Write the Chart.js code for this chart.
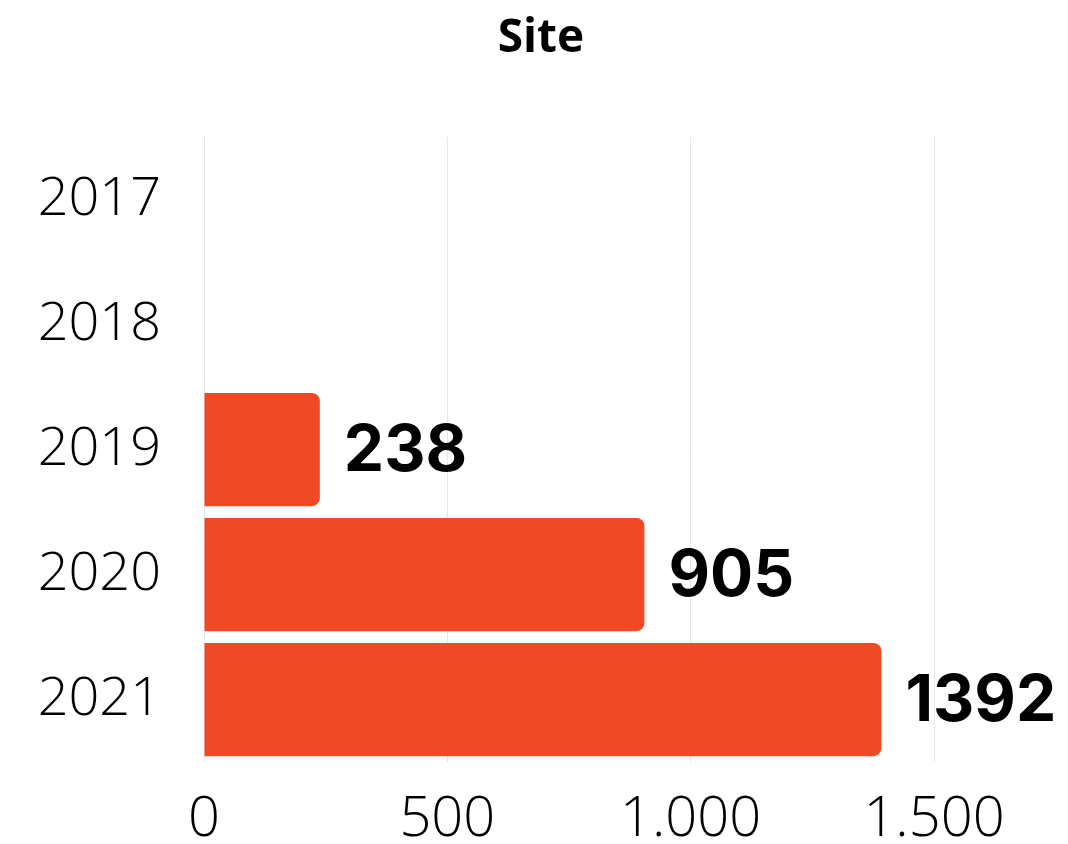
<!DOCTYPE html>
<html>
<head>
<meta charset="utf-8">
<title>Site</title>
<script src="https://cdn.jsdelivr.net/npm/chart.js@4.4.1/dist/chart.umd.min.js"></script>
<style>
    html, body { margin: 0; padding: 0; background: #ffffff; overflow: hidden; }
    #wrap { width: 1068px; height: 844px; }
</style>
</head>
<body>
<div id="wrap"><canvas id="siteChart" width="1068" height="844"></canvas></div>
<script>
// Chart data
const chartTitle = "Site";
const years = ["2017", "2018", "2019", "2020", "2021"];
const siteValues = [null, null, 238, 905, 1392];
const xTicks = [0, 500, 1000, 1500];

const barColor = "#f04925";

// German style thousands separator: 1000 -> 1.000
const formatNumber = v => String(v).replace(/\B(?=(\d{3})+(?!\d))/g, ".");

// Title centred on the whole canvas (the built-in one centres on the padded box)
const pageTitle = {
    id: "pageTitle",
    afterDraw(chart) {
        const ctx = chart.ctx;
        ctx.save();
        ctx.font = "700 46px 'Open Sans'";
        ctx.fillStyle = "#000000";
        ctx.textAlign = "center";
        ctx.textBaseline = "middle";
        ctx.fillText(chartTitle, 541, 39);
        ctx.restore();
    }
};

// Value labels to the right of each bar
const valueLabels = {
    id: "valueLabels",
    afterDatasetsDraw(chart) {
        const ctx = chart.ctx;
        const meta = chart.getDatasetMeta(0);
        ctx.save();
        ctx.font = "700 64px Inter";
        ctx.fillStyle = "#000000";
        ctx.textAlign = "left";
        ctx.textBaseline = "middle";
        meta.data.forEach((bar, i) => {
            const v = siteValues[i];
            if (v == null) return;
            ctx.fillText(String(v), bar.x + 24, bar.y + 2);
        });
        ctx.restore();
    }
};

const chart = new Chart(document.getElementById("siteChart").getContext("2d"), {
    type: "bar",
    data: {
        labels: years,
        datasets: [{
            label: chartTitle,
            data: siteValues,
            backgroundColor: barColor,
            borderRadius: 8,
            borderSkipped: "start",
            categoryPercentage: 1,
            barPercentage: 0.906
        }]
    },
    options: {
        indexAxis: "y",
        responsive: false,
        animation: false,
        devicePixelRatio: 1,
        layout: {
            padding: { left: 32, right: 134, top: 137, bottom: -34 }
        },
        plugins: {
            legend: { display: false },
            tooltip: { enabled: false },
            title: { display: false }
        },
        scales: {
            x: {
                min: 0,
                max: 1500,
                afterBuildTicks: axis => { axis.ticks = xTicks.map(v => ({ value: v })); },
                grid: { color: "#e6e6e6", lineWidth: 1, drawTicks: false },
                border: { display: false },
                ticks: {
                    color: "#000000",
                    padding: 30,
                    maxRotation: 0,
                    font: { family: "Open Sans", size: 56, weight: "300", lineHeight: 1 },
                    callback: v => formatNumber(v)
                }
            },
            y: {
                afterFit: axis => { axis.width = 172; },
                grid: { display: false, drawTicks: false },
                border: { display: false },
                ticks: {
                    color: "#000000",
                    padding: 43,
                    font: { family: "Open Sans", size: 54, weight: "300", lineHeight: 1.2 }
                }
            }
        }
    },
    plugins: [valueLabels, pageTitle]
});
</script>
</body>
</html>
